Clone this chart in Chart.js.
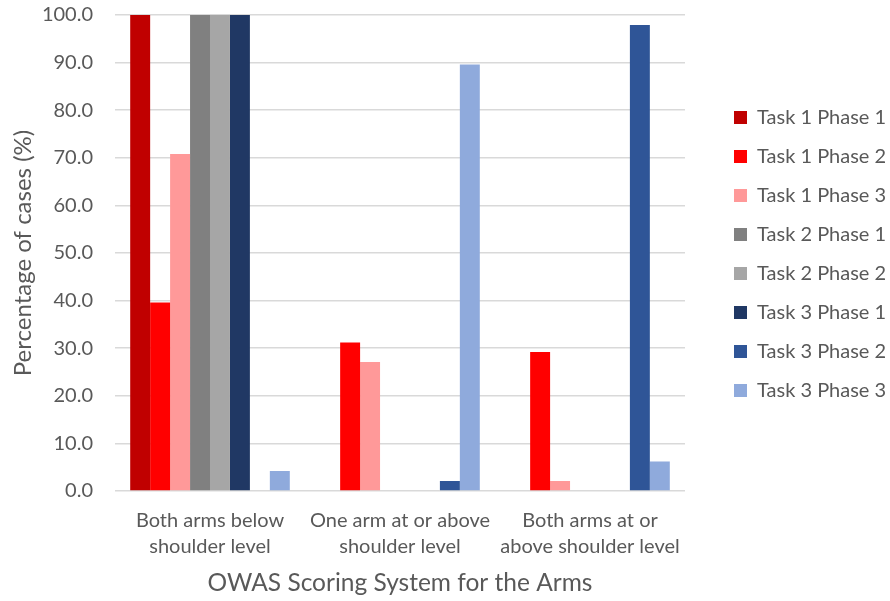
<!DOCTYPE html>
<html>
<head>
<meta charset="utf-8">
<script src="https://cdn.jsdelivr.net/npm/chart.js@4/dist/chart.umd.min.js"></script>
<style>
  html, body { margin: 0; padding: 0; background: #ffffff; }
  #wrap { width: 890px; height: 601px; }
</style>
</head>
<body>
<div id="wrap"><canvas id="c" width="890" height="601"></canvas></div>
<script>
// OWAS arm posture categories
const categories = [
  ["Both arms below", "shoulder level"],
  ["One arm at or above", "shoulder level"],
  ["Both arms at or", "above shoulder level"]
];

// Percentage of cases per task/phase
const task1Phase1 = [100.0, 0.0, 0.0];
const task1Phase2 = [39.6, 31.2, 29.2];
const task1Phase3 = [70.8, 27.1, 2.1];
const task2Phase1 = [100.0, 0.0, 0.0];
const task2Phase2 = [100.0, 0.0, 0.0];
const task3Phase1 = [100.0, 0.0, 0.0];
const task3Phase2 = [0.0, 2.1, 97.9];
const task3Phase3 = [4.2, 89.6, 6.2];

const seriesNames = [
  "Task 1 Phase 1", "Task 1 Phase 2", "Task 1 Phase 3",
  "Task 2 Phase 1", "Task 2 Phase 2",
  "Task 3 Phase 1", "Task 3 Phase 2", "Task 3 Phase 3"
];
const seriesValues = [
  task1Phase1, task1Phase2, task1Phase3,
  task2Phase1, task2Phase2,
  task3Phase1, task3Phase2, task3Phase3
];
const seriesColors = [
  "#C00000", "#FF0000", "#FF9999",
  "#808080", "#A6A6A6",
  "#203864", "#2F5597", "#8FAADC"
];

const textColor = "#595959";
const fontFamily = "Lato, 'Open Sans', sans-serif";

// Legend column: fixed width, items pushed right of the plot and
// centred on the plot area rather than on the whole canvas
const LEGEND_WIDTH = 205;
const LEGEND_SHIFT_X = 30;
const LEGEND_SHIFT_Y = -45;
const legendLayout = {
  id: "legendLayout",
  afterInit(chart) {
    const lg = chart.legend;
    if (!lg) return;
    const fit = lg.fit.bind(lg);
    lg.fit = function () { fit(); this.width = LEGEND_WIDTH; };
    const draw = lg.draw.bind(lg);
    lg.draw = function () {
      const ctx = this.ctx;
      ctx.save();
      ctx.translate(LEGEND_SHIFT_X, LEGEND_SHIFT_Y);
      draw();
      ctx.restore();
    };
  }
};

const datasets = seriesNames.map((name, i) => ({
  label: name,
  data: seriesValues[i],
  backgroundColor: seriesColors[i],
  borderWidth: 0,
  categoryPercentage: 0.84,
  barPercentage: 1.0
}));

new Chart(document.getElementById("c"), {
  type: "bar",
  data: { labels: categories, datasets },
  plugins: [legendLayout],
  options: {
    responsive: false,
    animation: false,
    layout: { padding: { top: 0, right: 0, left: 5, bottom: 3 } },
    plugins: {
      tooltip: { enabled: false },
      legend: {
        position: "right",
        align: "center",
        labels: {
          boxWidth: 13,
          boxHeight: 13,
          padding: 19,
          color: textColor,
          font: { family: fontFamily, size: 20 }
        }
      }
    },
    scales: {
      x: {
        afterFit: (scale) => { scale.height = 107; },
        grid: { display: false, drawTicks: false },
        border: { display: false },
        ticks: {
          color: textColor,
          padding: 17,
          maxRotation: 0,
          autoSkip: false,
          font: { family: fontFamily, size: 20, lineHeight: 1.3 }
        },
        title: {
          display: true,
          text: "OWAS Scoring System for the Arms",
          color: textColor,
          padding: { top: 2, bottom: 0 },
          font: { family: fontFamily, size: 24.5 }
        }
      },
      y: {
        min: 0,
        max: 100,
        afterFit: (scale) => {
          scale.width = 110;
          scale.paddingTop = 15;
          scale.paddingBottom = 12;
        },
        ticks: {
          stepSize: 10,
          color: textColor,
          padding: 22,
          font: { family: fontFamily, size: 20 },
          callback: (v) => Number(v).toFixed(1)
        },
        grid: { color: "#D9D9D9", lineWidth: 1.5, drawTicks: false },
        border: { display: false },
        title: {
          display: true,
          text: "Percentage of cases (%)",
          color: textColor,
          padding: { top: 4, bottom: 2 },
          font: { family: fontFamily, size: 24 }
        }
      }
    }
  }
});
</script>
</body>
</html>
